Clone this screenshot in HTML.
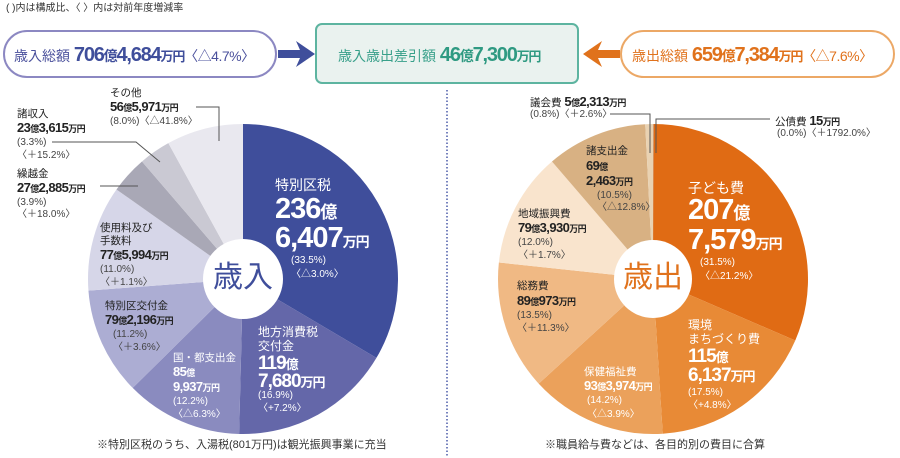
<!DOCTYPE html>
<html><head><meta charset="utf-8"><style>
body{margin:0;width:900px;height:458px;background:#fff;position:relative;overflow:hidden;font-family:"Liberation Sans","Noto Sans CJK JP",sans-serif;}
.t{position:absolute;white-space:nowrap;line-height:1;}
.s{font-size:10px;color:#444;}
.n{font-family:"Liberation Sans Narrow","Liberation Sans","Noto Sans CJK JP",sans-serif;font-weight:bold;font-size:13px;color:#222;letter-spacing:-0.6px;}
.n small{font-size:9px;}
.l{font-size:10.5px;color:#222;}
.w{color:#fff;}
.big{font-family:"Liberation Sans Narrow","Liberation Sans","Noto Sans CJK JP",sans-serif;font-weight:bold;color:#fff;letter-spacing:-1px;}
svg{position:absolute;left:0;top:0;}
</style></head><body>
<svg width="900" height="458" id="sv">
<line x1="447" y1="90" x2="447" y2="456" stroke="#4a5aa8" stroke-width="1.5" stroke-dasharray="1.5,2"/>
<rect x="4" y="31" width="272" height="46" rx="23" fill="#fff" stroke="#8c88c2" stroke-width="2"/>
<rect x="316" y="24" width="262" height="59" rx="6" fill="#eaf2ef" stroke="#5db4a0" stroke-width="2"/>
<rect x="621" y="31" width="273" height="46" rx="23" fill="#fff" stroke="#eca866" stroke-width="2"/>
<polygon points="278,50 300,50 296,41 315,54 296,67 300,58 278,58" fill="#3f4e9b"/>
<polygon points="620,50 598,50 602,41 583,54 602,67 598,58 620,58" fill="#e0721c"/>
<g id="pies"></g>
<g stroke="#555" stroke-width="1" fill="none">
<polyline points="196,107 219,107 219,141"/>
<polyline points="52,142 136,142 160,162"/>
<polyline points="100,186 138,186"/>
<polyline points="610,114 650,114 650,153"/>
<polyline points="656,153 656,119 770,119"/>
</g>
</svg>
<script>
function pie(cx,cy,r,ri,vals,cols){
 var g=document.getElementById('pies'),a=-Math.PI/2,s='';
 vals.forEach(function(v,i){
  var b=a+v/100*2*Math.PI;
  var x1=cx+r*Math.cos(a),y1=cy+r*Math.sin(a),x2=cx+r*Math.cos(b),y2=cy+r*Math.sin(b);
  s+='<path d="M'+cx+','+cy+' L'+x1+','+y1+' A'+r+','+r+' 0 '+((b-a)>Math.PI?1:0)+' 1 '+x2+','+y2+' Z" fill="'+cols[i]+'"/>';
  a=b;});
 s+='<circle cx="'+cx+'" cy="'+cy+'" r="'+ri+'" fill="#fff"/>';
 g.innerHTML+=s;
}
pie(243,279,155,40,[33.5,16.9,12.2,11.2,11.0,3.9,3.3,8.0],['#3f4e9b','#6467a9','#8a8bbf','#acadd3','#d6d6e8','#a9a8b6','#cac9d3','#e9e8ef']);
pie(653,279,155,39,[31.5,17.5,14.2,13.5,12.0,10.5,0.8,0.05],['#e06b14','#e88a36','#eba15b','#f0b984','#f9e4cd','#d8b183','#e9d2b2','#ccc']);
</script>
<div class="t" style="left:6px;top:4px;font-size:10px;color:#333">( )内は構成比、〈 〉内は対前年度増減率</div>
<div class="t" style="left:14px;top:45px;font-size:14px;color:#4a509c">歳入総額 <span class="n" style="font-size:20px;color:#3f4e9b;letter-spacing:-1.2px">706<small style="font-size:14px">億</small>4,684<small style="font-size:13px">万円</small></span><span style="letter-spacing:-0.5px">〈△4.7%〉</span></div>
<div class="t" style="left:338px;top:45px;font-size:14px;color:#38a08a">歳入歳出差引額 <span class="n" style="font-size:20px;color:#2f9a82;letter-spacing:-1.2px">46<small style="font-size:14px">億</small>7,300<small style="font-size:13px">万円</small></span></div>
<div class="t" style="left:632px;top:45px;font-size:14px;color:#e0721c">歳出総額 <span class="n" style="font-size:20px;color:#e0721c;letter-spacing:-1.2px">659<small style="font-size:14px">億</small>7,384<small style="font-size:13px">万円</small></span><span style="letter-spacing:-0.5px">〈△7.6%〉</span></div>

<div class="t l" style="left:110px;top:88px">その他</div>
<div class="t n" style="left:110px;top:100px">56<small>億</small>5,971<small>万円</small></div>
<div class="t s" style="left:110px;top:117px">(8.0%)〈△41.8%〉</div>
<div class="t l" style="left:17px;top:109px">諸収入</div>
<div class="t n" style="left:17px;top:121px">23<small>億</small>3,615<small>万円</small></div>
<div class="t s" style="left:17px;top:138px">(3.3%)</div>
<div class="t s" style="left:17px;top:151px">〈＋15.2%〉</div>
<div class="t l" style="left:17px;top:169px">繰越金</div>
<div class="t n" style="left:17px;top:181px">27<small>億</small>2,885<small>万円</small></div>
<div class="t s" style="left:17px;top:198px">(3.9%)</div>
<div class="t s" style="left:17px;top:210px">〈＋18.0%〉</div>
<div class="t l" style="left:100px;top:223px">使用料及び</div>
<div class="t l" style="left:100px;top:236px">手数料</div>
<div class="t n" style="left:100px;top:248px">77<small>億</small>5,994<small>万円</small></div>
<div class="t s" style="left:100px;top:265px">(11.0%)</div>
<div class="t s" style="left:100px;top:278px">〈＋1.1%〉</div>
<div class="t l" style="left:105px;top:301px">特別区交付金</div>
<div class="t n" style="left:105px;top:313px">79<small>億</small>2,196<small>万円</small></div>
<div class="t s" style="left:113px;top:330px">(11.2%)</div>
<div class="t s" style="left:113px;top:343px">〈＋3.6%〉</div>
<div class="t l w" style="left:173px;top:353px">国・都支出金</div>
<div class="t n w" style="left:173px;top:365px">85<small>億</small></div>
<div class="t n w" style="left:173px;top:380px">9,937<small>万円</small></div>
<div class="t s w" style="left:173px;top:397px">(12.2%)</div>
<div class="t s w" style="left:173px;top:410px">〈△6.3%〉</div>
<div class="t l w" style="left:258px;top:326px;font-size:12px">地方消費税</div>
<div class="t l w" style="left:258px;top:340px;font-size:12px">交付金</div>
<div class="t big" style="left:258px;top:354px;font-size:19px">119<span style="font-size:13px">億</span></div>
<div class="t big" style="left:258px;top:372px;font-size:19px">7,680<span style="font-size:13px">万円</span></div>
<div class="t s w" style="left:258px;top:391px">(16.9%)</div>
<div class="t s w" style="left:258px;top:404px">〈+7.2%〉</div>
<div class="t w" style="left:275px;top:178px;font-size:14px">特別区税</div>
<div class="t big" style="left:275px;top:195px;font-size:29px">236<span style="font-size:17px">億</span></div>
<div class="t big" style="left:275px;top:224px;font-size:29px">6,407<span style="font-size:14px">万円</span></div>
<div class="t s w" style="left:291px;top:256px">(33.5%)</div>
<div class="t s w" style="left:291px;top:270px">〈△3.0%〉</div>
<div class="t" style="left:213px;top:263px;font-size:30px;color:#3f4e9b">歳入</div>
<div class="t" style="left:97px;top:440px;font-size:11px;color:#333">※特別区税のうち、入湯税(801万円)は観光振興事業に充当</div>

<div class="t" style="left:530px;top:95px;font-size:10.5px;color:#222">議会費 <span class="n">5<small>億</small>2,313<small>万円</small></span></div>
<div class="t s" style="left:530px;top:110px">(0.8%)〈＋2.6%〉</div>
<div class="t" style="left:775px;top:114px;font-size:10.5px;color:#222">公債費 <span class="n">15<small>万円</small></span></div>
<div class="t s" style="left:777px;top:129px">(0.0%)〈＋1792.0%〉</div>
<div class="t l" style="left:586px;top:146px">諸支出金</div>
<div class="t n" style="left:586px;top:159px">69<small>億</small></div>
<div class="t n" style="left:586px;top:174px">2,463<small>万円</small></div>
<div class="t s" style="left:597px;top:191px">(10.5%)</div>
<div class="t s" style="left:597px;top:203px">〈△12.8%〉</div>
<div class="t w" style="left:688px;top:181px;font-size:14px">子ども費</div>
<div class="t big" style="left:688px;top:196px;font-size:29px">207<span style="font-size:17px">億</span></div>
<div class="t big" style="left:688px;top:226px;font-size:29px">7,579<span style="font-size:14px">万円</span></div>
<div class="t s w" style="left:700px;top:258px">(31.5%)</div>
<div class="t s w" style="left:700px;top:272px">〈△21.2%〉</div>
<div class="t l" style="left:518px;top:209px">地域振興費</div>
<div class="t n" style="left:518px;top:221px">79<small>億</small>3,930<small>万円</small></div>
<div class="t s" style="left:518px;top:238px">(12.0%)</div>
<div class="t s" style="left:518px;top:251px">〈＋1.7%〉</div>
<div class="t l" style="left:517px;top:281px">総務費</div>
<div class="t n" style="left:517px;top:294px">89<small>億</small>973<small>万円</small></div>
<div class="t s" style="left:517px;top:311px">(13.5%)</div>
<div class="t s" style="left:517px;top:324px">〈＋11.3%〉</div>
<div class="t l w" style="left:688px;top:319px;font-size:12px">環境</div>
<div class="t l w" style="left:688px;top:333px;font-size:12px">まちづくり費</div>
<div class="t big" style="left:688px;top:347px;font-size:19px">115<span style="font-size:13px">億</span></div>
<div class="t big" style="left:688px;top:366px;font-size:19px">6,137<span style="font-size:13px">万円</span></div>
<div class="t s w" style="left:688px;top:388px">(17.5%)</div>
<div class="t s w" style="left:688px;top:401px">〈+4.8%〉</div>
<div class="t l w" style="left:584px;top:367px">保健福祉費</div>
<div class="t n w" style="left:584px;top:379px">93<small>億</small>3,974<small>万円</small></div>
<div class="t s w" style="left:587px;top:396px">(14.2%)</div>
<div class="t s w" style="left:587px;top:410px">〈△3.9%〉</div>
<div class="t" style="left:623px;top:263px;font-size:30px;color:#e0721c">歳出</div>
<div class="t" style="left:545px;top:440px;font-size:11px;color:#333">※職員給与費などは、各目的別の費目に合算</div>
</body></html>
